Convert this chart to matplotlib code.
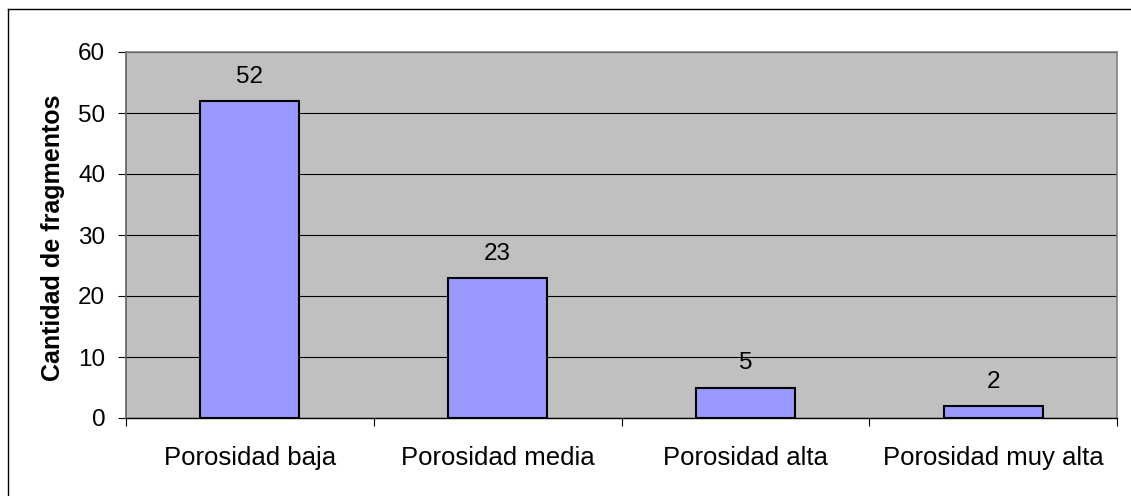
import matplotlib
matplotlib.use("Agg")
import matplotlib.pyplot as plt
from matplotlib.lines import Line2D
import numpy as np

plt.rcParams['font.family'] = ['Liberation Sans', 'DejaVu Sans']

categories = ["Porosidad baja", "Porosidad media", "Porosidad alta", "Porosidad muy alta"]
counts = [52, 23, 5, 2]
y_ticks = [0, 10, 20, 30, 40, 50, 60]
y_label = "Cantidad de fragmentos"

W, H = 1131, 496
fig = plt.figure(figsize=(W / 100, H / 100), dpi=100)
fig.patch.set_facecolor("white")

ax = fig.add_axes([126 / W, 1 - 418 / H, (1117 - 126) / W, (418 - 52) / H])
ax.set_facecolor("#C0C0C0")

x = np.arange(len(categories))
ax.bar(x, counts, width=0.40, color="#9999FF", edgecolor="black", linewidth=1.5, zorder=3)

ax.set_xlim(-0.5, len(categories) - 0.5)
ax.set_ylim(0, 60)
ax.set_yticks(y_ticks)
ax.set_yticklabels([str(t) for t in y_ticks], fontsize=17.5)
ax.yaxis.grid(True, color="black", linewidth=0.8, zorder=1)
ax.set_axisbelow(True)

# category labels centred, tick marks on the category boundaries
ax.set_xticks(x)
ax.set_xticklabels(categories, fontsize=18.5)
ax.tick_params(axis="x", which="major", length=0, pad=20)
ax.set_xticks(np.arange(len(categories) + 1) - 0.5, minor=True)
ax.tick_params(axis="x", which="minor", length=6, width=0.8, color="black", direction="out")
ax.tick_params(axis="y", length=6, width=0.8, color="black", direction="out", pad=9)

for side in ("top", "right"):
    ax.spines[side].set_color("#808080")
    ax.spines[side].set_linewidth(1.2)
ax.spines["left"].set_color("#606060")
ax.spines["left"].set_linewidth(1.2)
ax.spines["bottom"].set_color("black")
ax.spines["bottom"].set_linewidth(1.0)

for xi, v in zip(x, counts):
    ax.annotate(str(v), (xi, v), xytext=(0, 13), textcoords="offset points",
                ha="center", va="baseline", fontsize=17.5)

fig.text(52.8 / W, 1 - 238 / H, y_label, rotation=90, ha="center", va="center",
         fontsize=18, fontweight="bold")

# outer chart frame (top and left edges)
fig.add_artist(Line2D([7.5 / W, 1.0], [1 - 8.5 / H, 1 - 8.5 / H], transform=fig.transFigure,
                      color="black", linewidth=1.0))
fig.add_artist(Line2D([7.5 / W, 7.5 / W], [0.0, 1 - 8.5 / H], transform=fig.transFigure,
                      color="black", linewidth=1.0))

fig.savefig("out.png", dpi=100)
